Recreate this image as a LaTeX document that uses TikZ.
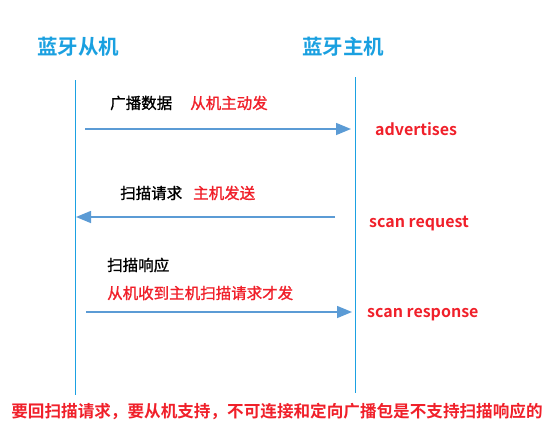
\documentclass[tikz,border=0pt]{standalone}
\usepackage{fontspec}
\setmainfont{Noto Sans CJK SC}
\newfontfamily\cjkb{Noto Sans CJK SC Bold}
\newfontfamily\cjkm[FakeBold=1.2]{Noto Sans CJK SC}
\usetikzlibrary{arrows.meta}
\definecolor{titleblue}{HTML}{1AA0E0}
\definecolor{lineblue}{HTML}{1BA1E2}
\definecolor{arrowblue}{HTML}{5B9BD5}
\definecolor{txtred}{HTML}{F0202A}
\tikzset{
  title/.style={font=\cjkb\fontsize{20.5}{22}\selectfont, text=titleblue, inner sep=0pt},
  lifeline/.style={draw=lineblue, line width=1pt},
  msg/.style={draw=arrowblue, line width=1.5pt, -{Triangle[length=15pt,width=12pt]}},
  blk/.style={font=\cjkm\fontsize{15.5}{17}\selectfont, text=black, inner sep=0pt, anchor=west},
  red/.style={font=\cjkm\fontsize{15.5}{17}\selectfont, text=txtred, inner sep=0pt, anchor=west},
  eng/.style={font=\cjkb\fontsize{16}{18}\selectfont, text=txtred, inner sep=0pt, anchor=west},
  note/.style={font=\cjkb\fontsize{16.6}{19}\selectfont, text=txtred, inner sep=0pt},
}
\begin{document}
\begin{tikzpicture}[x=1pt,y=-1pt]
\useasboundingbox (0,0) rectangle (554,442);
\node[title] (slave) at (78,47) {蓝牙从机};
\node[title] (master) at (343,47) {蓝牙主机};
\coordinate (lt) at (75,80);
\coordinate (lb) at (75,395);
\coordinate (rt) at (355,77);
\coordinate (rb) at (355,393);
\draw[lifeline] (lt) -- (lb);
\draw[lifeline] (rt) -- (rb);
% message 1
\node[blk] (adv) at (110,103) {广播数据};
\node[red] (advnote) at (190,103) {从机主动发};
\coordinate (a1s) at (85,129);
\coordinate (a1e) at (351,129);
\draw[msg] (a1s) -- (a1e);
\node[eng] (adven) at (375,129) {advertises};
\node[blk] (req) at (120,193) {扫描请求};
\node[red] (reqnote) at (193,193) {主机发送};
\coordinate (a2s) at (335,217);
\coordinate (a2e) at (76,217);
\draw[msg] (a2s) -- (a2e);
\node[eng] (reqen) at (369,224) {scan request};
% message 3
\node[blk] (rsp) at (107,265) {扫描响应};
\node[red] (rspnote) at (107,293) {从机收到主机扫描请求才发};
\coordinate (a3s) at (86,312);
\coordinate (a3e) at (352,312);
\draw[msg] (a3s) -- (a3e);
\node[eng] (rspen) at (367,315) {scan response};
% bottom note
\node[note] (bottom) at (277,411) {要回扫描请求，要从机支持，不可连接和定向广播包是不支持扫描响应的};
\end{tikzpicture}
\end{document}
